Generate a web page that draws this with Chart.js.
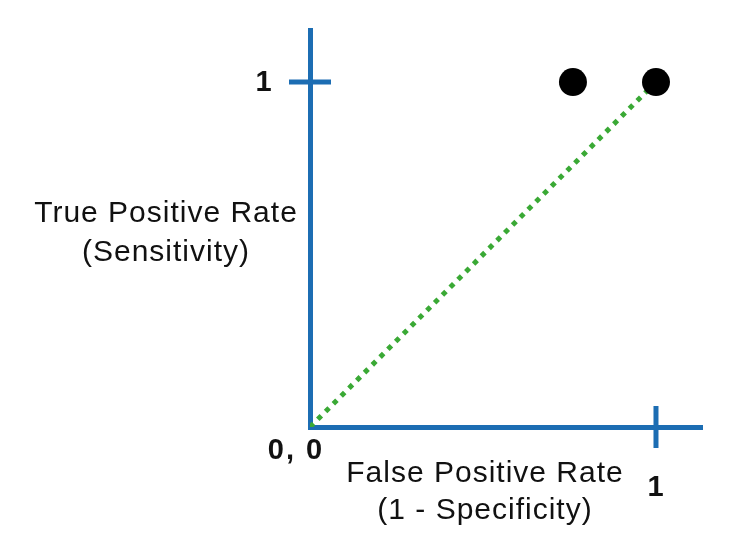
<!DOCTYPE html>
<html>
<head>
<meta charset="utf-8">
<script src="https://cdn.jsdelivr.net/npm/chart.js@4.4.1/dist/chart.umd.min.js"></script>
<style>
  html, body { margin: 0; padding: 0; background: #ffffff; }
  #wrap { width: 744px; height: 559px; }
</style>
</head>
<body>
<div id="wrap"><canvas id="roc"></canvas></div>
<script>
// ROC sketch: chance diagonal plus two classifier points
const diagonalX = [0, 1];
const diagonalY = [0, 1];
const pointFPR = [0.76, 1];
const pointTPR = [1, 1];
const xTickValues = [1];
const xTickLabels = ['1'];
const yTickValues = [1];
const yTickLabels = ['1'];
const originLabel = '0, 0';
const yTitle = ['True Positive Rate', '(Sensitivity)'];
const xTitle = ['False Positive Rate', '(1 - Specificity)'];

const BLUE = '#1c6db3';
const GREEN = '#3aa935';

// cross-shaped ticks and all the text, placed from the scales
const rocDecor = {
    id: 'rocDecor',
    afterDraw(chart) {
        const { ctx, scales: { x, y } } = chart;
        const x0 = x.getPixelForValue(0);
        const y0 = y.getPixelForValue(0);
        const half = 21;

        ctx.save();
        ctx.strokeStyle = BLUE;
        ctx.lineWidth = 5;
        yTickValues.forEach(v => {
            const py = y.getPixelForValue(v);
            ctx.beginPath();
            ctx.moveTo(x0 - half, py);
            ctx.lineTo(x0 + half, py);
            ctx.stroke();
        });
        xTickValues.forEach(v => {
            const px = x.getPixelForValue(v);
            ctx.beginPath();
            ctx.moveTo(px, y0 - half);
            ctx.lineTo(px, y0 + half);
            ctx.stroke();
        });

        ctx.fillStyle = '#111111';
        ctx.textAlign = 'center';
        ctx.textBaseline = 'middle';
        ctx.font = 'bold 29px "Liberation Sans", Arial, sans-serif';
        ctx.letterSpacing = '1px';
        yTickValues.forEach((v, i) => {
            ctx.fillText(yTickLabels[i], x0 - 46, y.getPixelForValue(v) + 1);
        });
        xTickValues.forEach((v, i) => {
            ctx.fillText(xTickLabels[i], x.getPixelForValue(v), y0 + 61);
        });
        ctx.letterSpacing = '2px';
        ctx.fillText(originLabel, x0 - 14, y0 + 24);

        ctx.font = '30px "Liberation Sans", Arial, sans-serif';
        ctx.letterSpacing = '1px';
        ctx.fillText(yTitle[0], x0 - 144, y0 - 213);
        ctx.fillText(yTitle[1], x0 - 144, y0 - 174);
        ctx.fillText(xTitle[0], x0 + 175, y0 + 47);
        ctx.fillText(xTitle[1], x0 + 175, y0 + 84);
        ctx.restore();
    }
};

function createChart(ctx) {
    return new Chart(ctx, {
        type: 'scatter',
        data: {
            datasets: [
                {
                    label: 'classifiers',
                    data: pointFPR.map((v, i) => ({ x: v, y: pointTPR[i] })),
                    backgroundColor: '#000000',
                    borderWidth: 0,
                    pointRadius: 14,
                    clip: false,
                },
                {
                    type: 'line',
                    label: 'chance',
                    data: diagonalX.map((v, i) => ({ x: v, y: diagonalY[i] })),
                    borderColor: GREEN,
                    borderWidth: 5,
                    borderDash: [5, 6],
                    borderCapStyle: 'butt',
                    pointRadius: 0,
                    fill: false,
                },
            ],
        },
        options: {
            responsive: true,
            maintainAspectRatio: false,
            animation: false,
            layout: { padding: { left: 310, top: 30, right: 42, bottom: 132 } },
            plugins: { legend: { display: false }, tooltip: { enabled: false } },
            scales: {
                x: {
                    type: 'linear',
                    min: 0,
                    max: 1.133,
                    grid: { display: false, drawTicks: false },
                    border: { display: true, color: BLUE, width: 5 },
                    ticks: { display: false },
                    afterFit(s) { s.height = 0; },
                },
                y: {
                    type: 'linear',
                    min: 0,
                    max: 1.151,
                    grid: { display: false, drawTicks: false },
                    border: { display: true, color: BLUE, width: 5 },
                    ticks: { display: false },
                    afterFit(s) { s.width = 0; },
                },
            },
        },
        plugins: [rocDecor],
    });
}

document.addEventListener('DOMContentLoaded', () => {
    createChart(document.getElementById('roc').getContext('2d'));
});
</script>
</body>
</html>
